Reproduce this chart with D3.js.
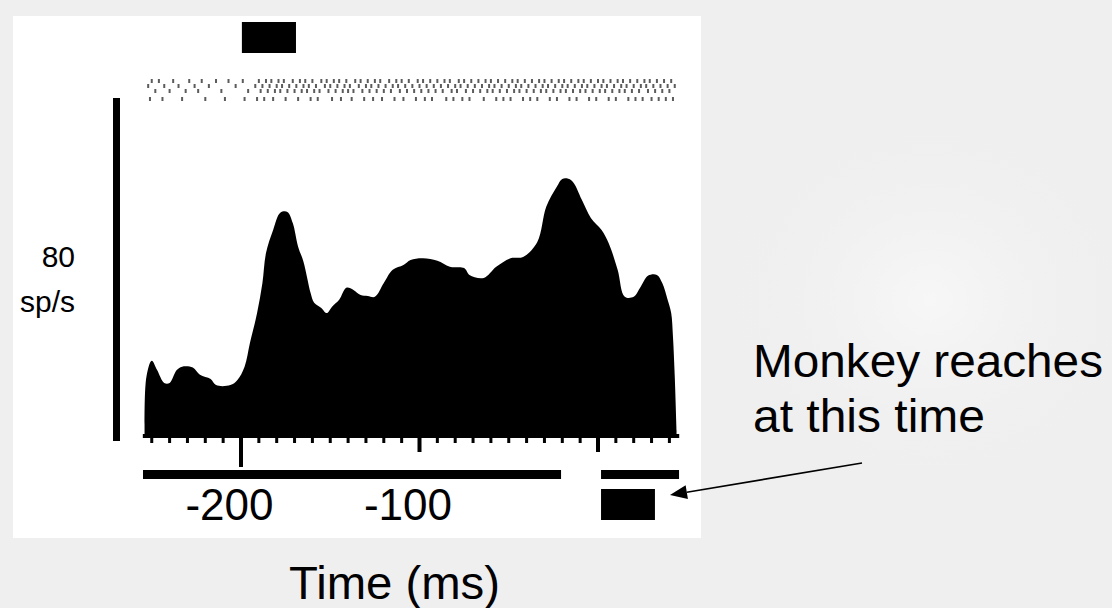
<!DOCTYPE html>
<html>
<head>
<meta charset="utf-8">
<script src="https://cdn.jsdelivr.net/npm/d3@7/dist/d3.min.js"></script>
<style>
  html, body { margin: 0; padding: 0; background: #efefef; }
  svg { display: block; }
  text { font-family: "Liberation Sans", Arial, sans-serif; fill: #000; }
</style>
</head>
<body>
<svg id="chart" width="1112" height="608"></svg>
<script>
// ---------- DATA ----------
// PSTH: time (ms, relative to reach) and firing rate (spikes/s)
const psthTimes = [-254, -253, -250, -247, -243, -240, -236, -233, -227, -223,
  -217, -214, -206, -202, -198, -195, -191, -188, -186, -182,
  -178, -174, -171, -168, -165, -161, -159, -155, -152, -149,
  -145, -141, -137, -133, -129, -125, -120, -115, -109, -105,
  -98, -90, -83, -75, -72, -64, -57, -49, -42, -34,
  -29, -23, -20, -15, -9, -4, 2, 6, 11, 15,
  20, 24, 28, 33, 36, 39, 41, 42, 43, 44];
const psthRates = [0, 14.0, 17.8, 15.6, 12.6, 12.6, 15.6, 16.4, 16.2, 14.5,
  13.5, 12.1, 12.1, 13.3, 16.4, 21.9, 28.9, 35.9, 42.9, 48.3,
  52.3, 52.5, 49.9, 44.4, 40.9, 33.6, 31.3, 30.1, 28.9, 30.4,
  32.0, 34.8, 34.3, 33.1, 32.9, 32.7, 35.9, 39.0, 40.1, 41.3,
  41.7, 41.1, 39.7, 39.4, 37.8, 37.1, 39.7, 41.7, 42.0, 45.5,
  53.7, 58.4, 60.2, 59.9, 55.3, 51.1, 48.3, 45.2, 39.0, 32.7,
  32.7, 35.1, 37.6, 37.8, 35.9, 32.0, 28.9, 23.4, 14.1, 1.6];

// Raster: spike times (ms) for each trial row
const rasterTrial1 = [-250, -246, -238, -229, -222, -214, -207, -199, -190, -186, -183, -179, -176, -171, -167, -164, -160, -155, -152, -148, -145, -141, -136, -133, -129, -125, -122, -117, -113, -110, -106, -101, -98, -94, -90, -86, -83, -78, -75, -71, -67, -63, -60, -56, -52, -48, -45, -41, -37, -33, -30, -26, -22, -19, -15, -11, -8, -4, 0, 3, 7, 11, 14, 18, 22, 26, 29, 33, 37, 41];
const rasterTrial2 = [-252, -243, -235, -226, -218, -203, -192, -188, -184, -180, -177, -173, -169, -165, -162, -158, -153, -150, -146, -142, -139, -134, -130, -127, -123, -119, -115, -112, -108, -104, -100, -96, -92, -88, -84, -80, -77, -73, -69, -65, -61, -58, -54, -50, -46, -43, -39, -35, -31, -28, -24, -20, -17, -13, -9, -6, -2, 2, 5, 9, 13, 16, 20, 24, 27, 31, 35, 39, 43];
const rasterTrial3 = [-248, -240, -231, -224, -211, -196, -189, -185, -181, -178, -174, -170, -166, -163, -159, -156, -151, -147, -143, -140, -137, -132, -128, -124, -120, -116, -111, -107, -103, -99, -95, -91, -87, -82, -79, -74, -70, -66, -62, -59, -55, -51, -47, -44, -40, -36, -32, -29, -25, -21, -18, -14, -10, -7, -3, 1, 4, 8, 12, 15, 19, 23, 28, 32, 36, 40];
const rasterTrial4 = [-251, -244, -233, -220, -209, -198, -191, -187, -182, -175, -168, -161, -157, -149, -144, -138, -131, -126, -121, -114, -109, -102, -97, -93, -85, -81, -76, -72, -64, -57, -53, -49, -42, -38, -34, -27, -23, -16, -12, -5, -1, 6, 10, 17, 21, 25, 30, 34, 38, 42];
const rasterTrials = [rasterTrial1, rasterTrial2, rasterTrial3, rasterTrial4];

// Axis ticks (ms)
const minorTicks = [-250, -240, -230, -220, -210, -190, -180, -170, -160, -150, -140, -130, -120, -110,
  -90, -80, -70, -60, -50, -40, -30, -20, -10, 10, 20, 30, 40];
const majorTicks = [-100, 0];
const longTicks = [-200];
const tickLabels = [-200, -100];

// Event markers (ms): [start, end]
const cueEvent = [-199.5, -169.2];          // top box
const epochBar1 = [-254.9, -20.7];          // lower long bar
const epochBar2 = [1.7, 45.4];              // lower short bar
const reachEvent = [1.7, 31.9];             // reach box

const scaleBarValue = 80;                   // sp/s
const scaleLabel = ["80", "sp/s"];
const xTitle = "Time (ms)";
const noteLines = ["Monkey reaches", "at this time"];

// ---------- LAYOUT ----------
const svg = d3.select("#chart");
const W = 1112, H = 608;

// background
const defs = svg.append("defs");
const rg = defs.append("radialGradient").attr("id", "glow").attr("cx", "0.5").attr("cy", "0.5").attr("r", "0.5");
rg.append("stop").attr("offset", "0").attr("stop-color", "#f7f7f7");
rg.append("stop").attr("offset", "1").attr("stop-color", "#efefef").attr("stop-opacity", 0);
svg.append("rect").attr("width", W).attr("height", H).attr("fill", "#efefef");
svg.append("ellipse").attr("cx", 930).attr("cy", 300).attr("rx", 220).attr("ry", 200).attr("fill", "url(#glow)");

// white figure panel
svg.append("rect").attr("x", 13).attr("y", 16).attr("width", 688).attr("height", 522).attr("fill", "#ffffff");

const x = d3.scaleLinear().domain([-200, 0]).range([241, 598]);
const y = d3.scaleLinear().domain([0, 80]).range([437, 437 - 80 * 4.2875]);

// PSTH area
const psth = psthTimes.map((t, i) => ({ t, r: psthRates[i] }));
const area = d3.area()
  .x(d => x(d.t))
  .y0(y(0))
  .y1(d => y(d.r))
  .curve(d3.curveCatmullRom.alpha(0.5));
svg.append("path").datum(psth).attr("d", area).attr("fill", "#000");

// baseline
svg.append("rect")
  .attr("x", x(-255)).attr("y", y(0) - 3)
  .attr("width", x(45.5) - x(-255)).attr("height", 4)
  .attr("fill", "#000");

// ticks
const g = svg.append("g");
g.selectAll(".minor").data(minorTicks).join("rect")
  .attr("x", d => x(d) - 1.5).attr("y", y(0)).attr("width", 3).attr("height", 6).attr("fill", "#000");
g.selectAll(".major").data(majorTicks).join("rect")
  .attr("x", d => x(d) - 2).attr("y", y(0)).attr("width", 4).attr("height", 15).attr("fill", "#000");
g.selectAll(".long").data(longTicks).join("rect")
  .attr("x", d => x(d) - 2).attr("y", y(0)).attr("width", 4).attr("height", 30).attr("fill", "#000");

// tick labels
svg.selectAll(".tl").data(tickLabels).join("text")
  .attr("x", d => x(d) - 11.5).attr("y", 520)
  .attr("text-anchor", "middle").attr("font-size", 44)
  .text(d => String(d));

// epoch bars
[epochBar1, epochBar2].forEach(b => {
  svg.append("rect").attr("x", x(b[0])).attr("y", 470)
    .attr("width", x(b[1]) - x(b[0])).attr("height", 9).attr("fill", "#000");
});
svg.append("rect").attr("x", x(reachEvent[0])).attr("y", 489)
  .attr("width", x(reachEvent[1]) - x(reachEvent[0])).attr("height", 31).attr("fill", "#000");
svg.append("rect").attr("x", x(cueEvent[0])).attr("y", 22)
  .attr("width", x(cueEvent[1]) - x(cueEvent[0])).attr("height", 31).attr("fill", "#000");

// raster
const rowY = [79, 84, 89, 97];
rasterTrials.forEach((trial, i) => {
  svg.append("g").selectAll("rect").data(trial).join("rect")
    .attr("x", d => x(d) - 1).attr("y", rowY[i])
    .attr("width", 2).attr("height", 4)
    .attr("fill", "#333").attr("opacity", 0.8);
});

// vertical scale bar
svg.append("rect").attr("x", 113).attr("y", y(scaleBarValue) + 4)
  .attr("width", 7).attr("height", y(0) - y(scaleBarValue))
  .attr("fill", "#000");
svg.append("text").attr("x", 75).attr("y", 267).attr("text-anchor", "end").attr("font-size", 30).text(scaleLabel[0]);
svg.append("text").attr("x", 75).attr("y", 312).attr("text-anchor", "end").attr("font-size", 30).text(scaleLabel[1]);

// x title
svg.append("text").attr("x", 289).attr("y", 599).attr("font-size", 46)
  .attr("textLength", 211).attr("lengthAdjust", "spacingAndGlyphs").text(xTitle);

// annotation
svg.append("text").attr("x", 753).attr("y", 377).attr("font-size", 46)
  .attr("textLength", 350).attr("lengthAdjust", "spacingAndGlyphs").text(noteLines[0]);
svg.append("text").attr("x", 753).attr("y", 432).attr("font-size", 46)
  .attr("textLength", 232).attr("lengthAdjust", "spacingAndGlyphs").text(noteLines[1]);

// arrow
const a0 = [862, 463], a1 = [670, 495];
const dx = a1[0] - a0[0], dy = a1[1] - a0[1], len = Math.hypot(dx, dy);
const ux = dx / len, uy = dy / len;
const hl = 17, hw = 7;
const bx = a1[0] - ux * hl, by = a1[1] - uy * hl;
svg.append("line").attr("x1", a0[0]).attr("y1", a0[1]).attr("x2", bx).attr("y2", by)
  .attr("stroke", "#000").attr("stroke-width", 1.6);
svg.append("polygon")
  .attr("points", [[a1[0], a1[1]], [bx - uy * hw, by + ux * hw], [bx + uy * hw, by - ux * hw]].map(p => p.join(",")).join(" "))
  .attr("fill", "#000");
</script>
</body>
</html>
